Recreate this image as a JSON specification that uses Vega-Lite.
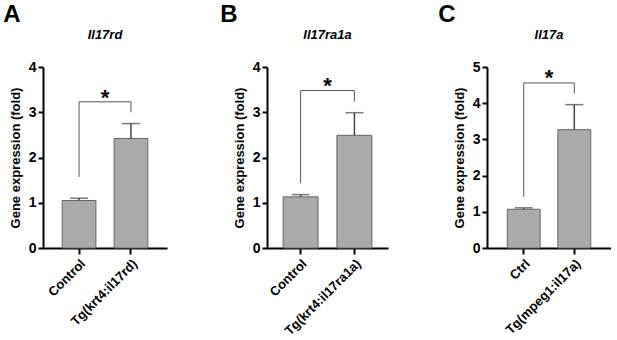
{
  "$schema": "https://vega.github.io/schema/vega-lite/v6.json",
  "padding": {"left": 3, "top": 3, "right": 0, "bottom": 0},
  "background": "white",
  "spacing": 53,
  "config": {
    "view": {"stroke": null},
    "font": "Liberation Sans",
    "axis": {
      "labelColor": "#000000", "titleColor": "#000000", "domainColor": "#000000", "tickColor": "#000000",
      "labelFont": "Liberation Sans", "titleFont": "Liberation Sans",
      "labelFontWeight": "bold", "titleFontWeight": "bold", "grid": false,
      "domainWidth": 2, "tickWidth": 2
    },
    "axisX": {"labelAngle": -45, "labelFontSize": 13, "labelPadding": 3, "tickSize": 6},
    "axisY": {"labelFontSize": 14, "titleFontSize": 13, "tickSize": 5, "labelPadding": 2, "titlePadding": 6},
    "title": {"font": "Liberation Sans", "color": "#000000"}
  },
  "datasets": {
    "barsA": [
      {"group": "Control", "value": 1.05, "upper": 1.10},
      {"group": "Tg(krt4:il17rd)", "value": 2.42, "upper": 2.75}
    ],
    "bracketA": [
      {"x1": "Control", "x2": "Tg(krt4:il17rd)", "y1": 3.23, "y2": 3.23},
      {"x1": "Control", "x2": "Control", "y1": 1.57, "y2": 3.23},
      {"x1": "Tg(krt4:il17rd)", "x2": "Tg(krt4:il17rd)", "y1": 3.00, "y2": 3.23}
    ],
    "starA": [{"group": "Control", "y": 3.17}],
    "barsB": [
      {"group": "Control", "value": 1.13, "upper": 1.18},
      {"group": "Tg(krt4:il17ra1a)", "value": 2.49, "upper": 2.99}
    ],
    "bracketB": [
      {"x1": "Control", "x2": "Tg(krt4:il17ra1a)", "y1": 3.48, "y2": 3.48},
      {"x1": "Control", "x2": "Control", "y1": 1.43, "y2": 3.48},
      {"x1": "Tg(krt4:il17ra1a)", "x2": "Tg(krt4:il17ra1a)", "y1": 3.24, "y2": 3.48}
    ],
    "starB": [{"group": "Control", "y": 3.43}],
    "barsC": [
      {"group": "Ctrl", "value": 1.07, "upper": 1.11},
      {"group": "Tg(mpeg1:il17a)", "value": 3.27, "upper": 3.96}
    ],
    "bracketC": [
      {"x1": "Ctrl", "x2": "Tg(mpeg1:il17a)", "y1": 4.56, "y2": 4.56},
      {"x1": "Ctrl", "x2": "Ctrl", "y1": 1.41, "y2": 4.56},
      {"x1": "Tg(mpeg1:il17a)", "x2": "Tg(mpeg1:il17a)", "y1": 4.27, "y2": 4.56}
    ],
    "starC": [{"group": "Ctrl", "y": 4.51}]
  },
  "hconcat": [
    {
      "title": {"text": "A", "anchor": "start", "frame": "bounds", "dx": -6, "fontSize": 24, "fontWeight": "bold", "offset": 2},
      "vconcat": [
        {
          "width": 124, "height": 181,
          "title": {"text": "Il17rd", "anchor": "middle", "frame": "group", "fontSize": 13, "fontStyle": "italic", "fontWeight": "bold", "offset": 18},
          "layer": [
            {
              "data": {"name": "barsA"},
              "mark": {"type": "bar", "fill": "#aaaaaa", "stroke": "#666666", "strokeWidth": 1},
              "encoding": {
                "x": {"field": "group", "type": "nominal",
                  "scale": {"domain": ["Control", "Tg(krt4:il17rd)"], "paddingInner": 0.35, "paddingOuter": 0.37},
                  "axis": {"title": null}},
                "y": {"field": "value", "type": "quantitative",
                  "scale": {"domain": [0, 4], "nice": false},
                  "axis": {"title": "Gene expression (fold)", "values": [0, 1, 2, 3, 4]}}
              }
            },
            {
              "data": {"name": "barsA"},
              "mark": {"type": "rule", "color": "#444444", "strokeWidth": 1.5},
              "encoding": {
                "x": {"field": "group", "type": "nominal", "axis": {"title": null}},
                "y": {"field": "value", "type": "quantitative", "axis": {"title": "Gene expression (fold)", "values": [0, 1, 2, 3, 4]}},
                "y2": {"field": "upper"}
              }
            },
            {
              "data": {"name": "barsA"},
              "mark": {"type": "tick", "color": "#444444", "thickness": 1.5, "size": 18},
              "encoding": {
                "x": {"field": "group", "type": "nominal", "axis": {"title": null}},
                "y": {"field": "upper", "type": "quantitative", "axis": {"title": "Gene expression (fold)", "values": [0, 1, 2, 3, 4]}}
              }
            },
            {
              "data": {"name": "bracketA"},
              "mark": {"type": "rule", "color": "#555555", "strokeWidth": 1},
              "encoding": {
                "x": {"field": "x1", "type": "nominal", "axis": {"title": null}},
                "x2": {"field": "x2"},
                "y": {"field": "y1", "type": "quantitative", "axis": {"title": "Gene expression (fold)", "values": [0, 1, 2, 3, 4]}},
                "y2": {"field": "y2"}
              }
            },
            {
              "data": {"name": "starA"},
              "mark": {"type": "text", "text": "*", "fontSize": 22, "fontWeight": "bold", "baseline": "alphabetic", "color": "#000000"},
              "encoding": {
                "x": {"field": "group", "type": "nominal", "bandPosition": 1.269, "axis": {"title": null}},
                "y": {"field": "y", "type": "quantitative", "axis": {"title": "Gene expression (fold)", "values": [0, 1, 2, 3, 4]}}
              }
            }
          ]
        }
      ]
    },
    {
      "spacing": 50,
      "hconcat": [
        {
          "title": {"text": "B", "anchor": "start", "frame": "bounds", "dx": -13, "fontSize": 24, "fontWeight": "bold", "offset": 2},
          "vconcat": [
            {
              "width": 121, "height": 181,
              "title": {"text": "Il17ra1a", "anchor": "middle", "frame": "group", "fontSize": 13, "fontStyle": "italic", "fontWeight": "bold", "offset": 18},
              "layer": [
                {
                  "data": {"name": "barsB"},
                  "mark": {"type": "bar", "fill": "#aaaaaa", "stroke": "#666666", "strokeWidth": 1},
                  "encoding": {
                    "x": {"field": "group", "type": "nominal",
                      "scale": {"domain": ["Control", "Tg(krt4:il17ra1a)"], "paddingInner": 0.35, "paddingOuter": 0.3},
                      "axis": {"title": null}},
                    "y": {"field": "value", "type": "quantitative",
                      "scale": {"domain": [0, 4], "nice": false},
                      "axis": {"title": "Gene expression (fold)", "values": [0, 1, 2, 3, 4]}}
                  }
                },
                {
                  "data": {"name": "barsB"},
                  "mark": {"type": "rule", "color": "#444444", "strokeWidth": 1.5},
                  "encoding": {
                    "x": {"field": "group", "type": "nominal", "axis": {"title": null}},
                    "y": {"field": "value", "type": "quantitative", "axis": {"title": "Gene expression (fold)", "values": [0, 1, 2, 3, 4]}},
                    "y2": {"field": "upper"}
                  }
                },
                {
                  "data": {"name": "barsB"},
                  "mark": {"type": "tick", "color": "#444444", "thickness": 1.5, "size": 18},
                  "encoding": {
                    "x": {"field": "group", "type": "nominal", "axis": {"title": null}},
                    "y": {"field": "upper", "type": "quantitative", "axis": {"title": "Gene expression (fold)", "values": [0, 1, 2, 3, 4]}}
                  }
                },
                {
                  "data": {"name": "bracketB"},
                  "mark": {"type": "rule", "color": "#555555", "strokeWidth": 1},
                  "encoding": {
                    "x": {"field": "x1", "type": "nominal", "axis": {"title": null}},
                    "x2": {"field": "x2"},
                    "y": {"field": "y1", "type": "quantitative", "axis": {"title": "Gene expression (fold)", "values": [0, 1, 2, 3, 4]}},
                    "y2": {"field": "y2"}
                  }
                },
                {
                  "data": {"name": "starB"},
                  "mark": {"type": "text", "text": "*", "fontSize": 22, "fontWeight": "bold", "baseline": "alphabetic", "color": "#000000"},
                  "encoding": {
                    "x": {"field": "group", "type": "nominal", "bandPosition": 1.269, "axis": {"title": null}},
                    "y": {"field": "y", "type": "quantitative", "axis": {"title": "Gene expression (fold)", "values": [0, 1, 2, 3, 4]}}
                  }
                }
              ]
            }
          ]
        },
        {
          "title": {"text": "C", "anchor": "start", "frame": "bounds", "dx": -15, "fontSize": 24, "fontWeight": "bold", "offset": 2},
          "vconcat": [
            {
              "width": 124, "height": 181,
              "title": {"text": "Il17a", "anchor": "middle", "frame": "group", "fontSize": 13, "fontStyle": "italic", "fontWeight": "bold", "offset": 18},
              "layer": [
                {
                  "data": {"name": "barsC"},
                  "mark": {"type": "bar", "fill": "#aaaaaa", "stroke": "#666666", "strokeWidth": 1},
                  "encoding": {
                    "x": {"field": "group", "type": "nominal",
                      "scale": {"domain": ["Ctrl", "Tg(mpeg1:il17a)"], "paddingInner": 0.35, "paddingOuter": 0.4},
                      "axis": {"title": null}},
                    "y": {"field": "value", "type": "quantitative",
                      "scale": {"domain": [0, 5], "nice": false},
                      "axis": {"title": "Gene expression (fold)", "values": [0, 1, 2, 3, 4, 5]}}
                  }
                },
                {
                  "data": {"name": "barsC"},
                  "mark": {"type": "rule", "color": "#444444", "strokeWidth": 1.5},
                  "encoding": {
                    "x": {"field": "group", "type": "nominal", "axis": {"title": null}},
                    "y": {"field": "value", "type": "quantitative", "axis": {"title": "Gene expression (fold)", "values": [0, 1, 2, 3, 4, 5]}},
                    "y2": {"field": "upper"}
                  }
                },
                {
                  "data": {"name": "barsC"},
                  "mark": {"type": "tick", "color": "#444444", "thickness": 1.5, "size": 18},
                  "encoding": {
                    "x": {"field": "group", "type": "nominal", "axis": {"title": null}},
                    "y": {"field": "upper", "type": "quantitative", "axis": {"title": "Gene expression (fold)", "values": [0, 1, 2, 3, 4, 5]}}
                  }
                },
                {
                  "data": {"name": "bracketC"},
                  "mark": {"type": "rule", "color": "#555555", "strokeWidth": 1},
                  "encoding": {
                    "x": {"field": "x1", "type": "nominal", "axis": {"title": null}},
                    "x2": {"field": "x2"},
                    "y": {"field": "y1", "type": "quantitative", "axis": {"title": "Gene expression (fold)", "values": [0, 1, 2, 3, 4, 5]}},
                    "y2": {"field": "y2"}
                  }
                },
                {
                  "data": {"name": "starC"},
                  "mark": {"type": "text", "text": "*", "fontSize": 22, "fontWeight": "bold", "baseline": "alphabetic", "color": "#000000"},
                  "encoding": {
                    "x": {"field": "group", "type": "nominal", "bandPosition": 1.269, "axis": {"title": null}},
                    "y": {"field": "y", "type": "quantitative", "axis": {"title": "Gene expression (fold)", "values": [0, 1, 2, 3, 4, 5]}}
                  }
                }
              ]
            }
          ]
        }
      ]
    }
  ]
}
